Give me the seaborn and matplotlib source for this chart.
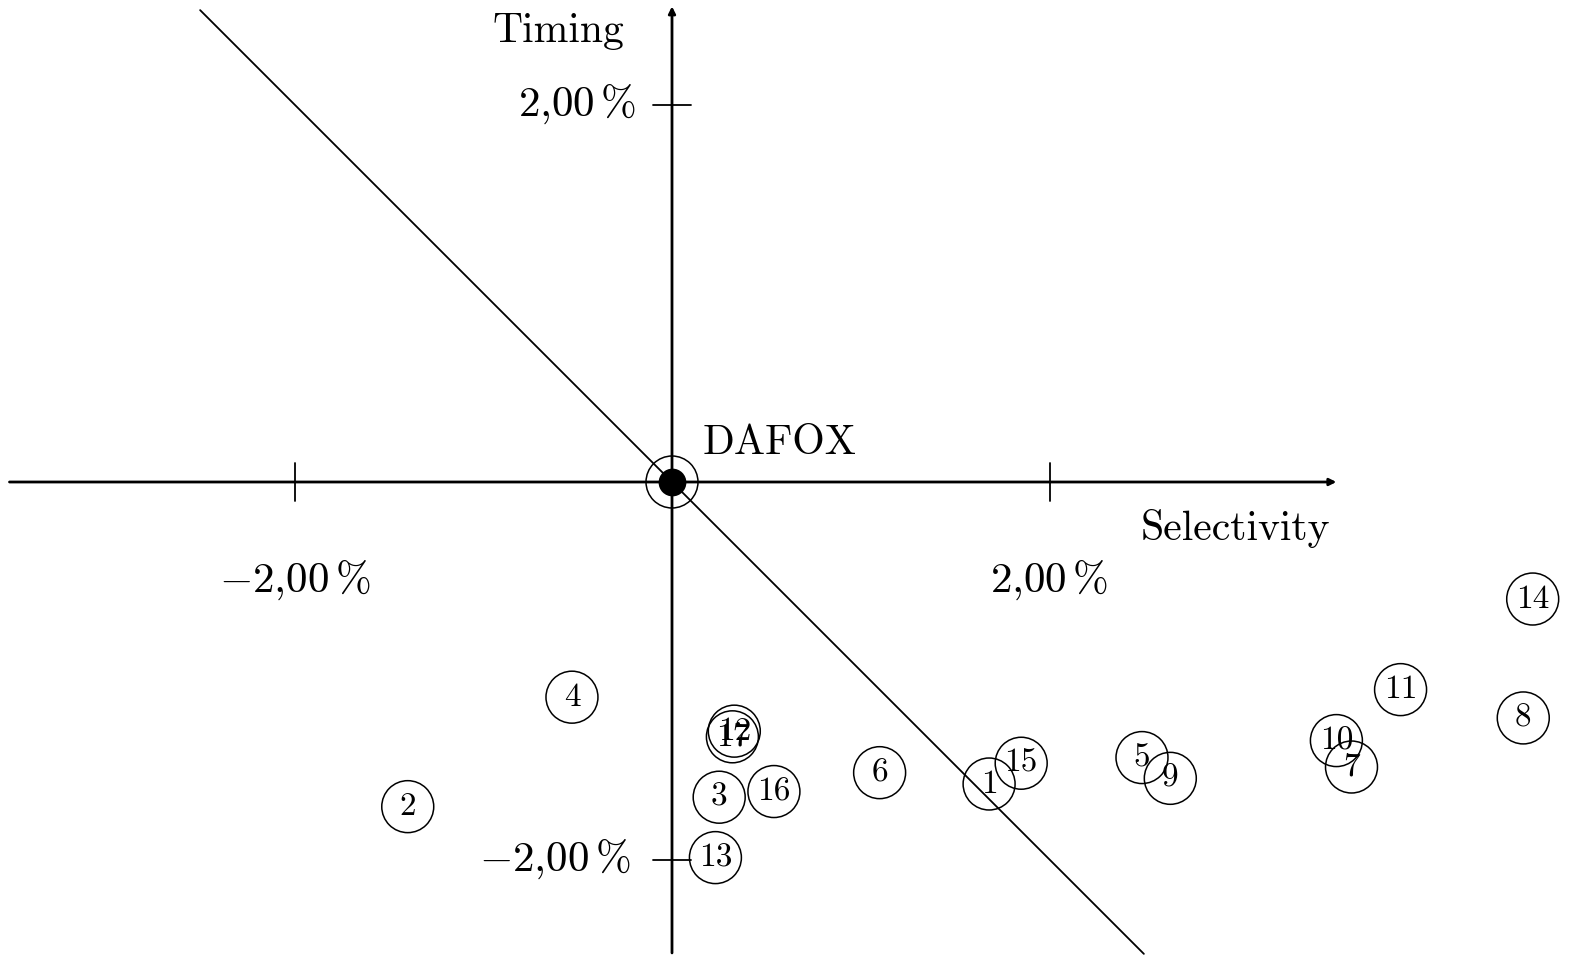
import matplotlib
matplotlib.use("Agg")
import matplotlib.pyplot as plt
import seaborn as sns
import pandas as pd

# Fund performance decomposition: selectivity vs. timing (in percent)
fund_ids = [str(i) for i in range(1, 18)]
selectivity = [1.68, -1.40, 0.25, -0.53, 2.49, 1.10, 3.60, 4.51, 2.64,
               3.52, 3.86, 0.33, 0.23, 4.56, 1.85, 0.54, 0.32]
timing = [-1.60, -1.72, -1.67, -1.14, -1.46, -1.54, -1.51, -1.25, -1.57,
          -1.37, -1.10, -1.32, -1.99, -0.62, -1.49, -1.64, -1.35]
benchmark_name = "DAFOX"
benchmark_xy = (0.0, 0.0)
tick_values = [-2.0, 2.0]


def pct_label(v):
    s = f"{abs(v):.2f}".replace(".", "{,}")
    sign = "-" if v < 0 else ""
    return rf"${sign}{s}\,\%$"


sns.set_theme(style="white")
plt.rcParams["mathtext.fontset"] = "cm"
plt.rcParams["font.family"] = ["cmr10", "DejaVu Serif"]
plt.rcParams["axes.unicode_minus"] = False
plt.rcParams["text.color"] = "black"

fig = plt.figure(figsize=(15.69, 9.56), dpi=100)
ax = fig.add_axes([0, 0, 1, 1])
ax.set_axis_off()

unit = 188.75  # pixels per percentage point
ax.set_xlim(-672 / unit, (1569 - 672) / unit)
ax.set_ylim((482 - 956) / unit, 482 / unit)

# axes with arrow heads
ax.annotate("", xy=(3.52, 0), xytext=(-3.51, 0),
            arrowprops=dict(arrowstyle="-|>", lw=2.0, color="black",
                            mutation_scale=10, shrinkA=0, shrinkB=0))
ax.annotate("", xy=(0, 2.52), xytext=(0, -2.495),
            arrowprops=dict(arrowstyle="-|>", lw=2.0, color="black",
                            mutation_scale=10, shrinkA=0, shrinkB=0))

# diagonal: selectivity + timing = 0
ax.plot([-2.5, 2.5], [2.5, -2.5], color="black", lw=1.3, zorder=1)

# tick marks and labels
half = 19 / unit
for t in tick_values:
    ax.plot([t, t], [-half, half], color="black", lw=1.3)
    ax.plot([-half, half], [t, t], color="black", lw=1.3)
    ax.text(t, -110 / unit, pct_label(t), ha="center", va="baseline",
            fontsize=31, color="black")
    right = -0.19 if t > 0 else -0.22
    ax.text(right, t - 11 / unit, pct_label(t), ha="right", va="baseline",
            fontsize=31, color="black")

ax.text(-114 / unit, 440 / unit, "Timing", ha="center", va="baseline",
        fontsize=30, color="black")
ax.text(3.486, -58 / unit, "Selectivity", ha="right", va="baseline",
        fontsize=30, color="black")

df = pd.DataFrame({"fund": fund_ids, "selectivity": selectivity,
                   "timing": timing})

# fund circles
sns.scatterplot(data=df, x="selectivity", y="timing", ax=ax, s=1400,
                marker="o", facecolor="none", edgecolor="black",
                linewidth=1.1, zorder=3, legend=False)
for _, r in df.iterrows():
    ax.text(r["selectivity"], r["timing"], r["fund"], ha="center",
            va="center", fontsize=24, zorder=4, color="black")

# benchmark: ring with filled dot
bench = pd.DataFrame({"x": [benchmark_xy[0]], "y": [benchmark_xy[1]]})
sns.scatterplot(data=bench, x="x", y="y", ax=ax, s=1400, marker="o",
                facecolor="none", edgecolor="black", linewidth=1.1,
                zorder=3, legend=False)
sns.scatterplot(data=bench, x="x", y="y", ax=ax, s=400, marker="o",
                color="black", edgecolor="black", linewidth=0,
                zorder=4, legend=False)
ax.text(benchmark_xy[0] + 31 / unit, benchmark_xy[1] + 28 / unit,
        benchmark_name, ha="left", va="baseline", fontsize=30,
        color="black")

fig.savefig("out.png", dpi=100)
